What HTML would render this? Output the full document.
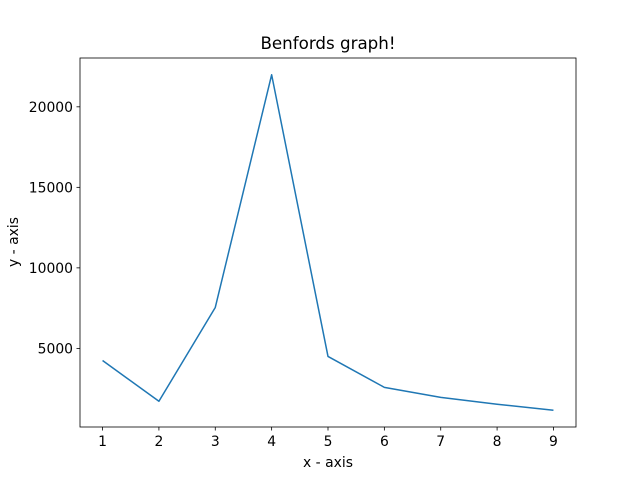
<!DOCTYPE html>
<html><head><meta charset="utf-8"><style>
body{margin:0;background:#fff;}
svg{display:block;font-family:"DejaVu Sans","Liberation Sans",sans-serif;}
</style></head><body>
<svg id="chart" width="640" height="480">
<rect width="640" height="480" fill="#fff"/>
<text x="328" y="49" font-size="16.7" text-anchor="middle">Benfords graph!</text>
<text x="328" y="467" font-size="13.9" text-anchor="middle">x - axis</text>
<text transform="translate(18,242) rotate(-90)" font-size="13.9" text-anchor="middle">y - axis</text>
<g id="ticks"></g>
<path id="line" fill="none" stroke="#1f77b4" stroke-width="1.5" stroke-linejoin="round"/>
<rect x="80" y="58" width="496" height="369" fill="none" stroke="#000" stroke-width="0.8"/>
</svg>
<script>
const categories=[1,2,3,4,5,6,7,8,9];
const values=[4250,1715,7540,21990,4500,2580,1960,1530,1160];
const yTicks=[5000,10000,15000,20000];
const L=80,R=576,T=58,B=427;
const xmin=0.6,xmax=9.4;
const vmin=Math.min(...values),vmax=Math.max(...values),pad=(vmax-vmin)*0.05;
const ymin=vmin-pad,ymax=vmax+pad;
const sx=v=>L+(v-xmin)/(xmax-xmin)*(R-L);
const sy=v=>B-(v-ymin)/(ymax-ymin)*(B-T);
const NS="http://www.w3.org/2000/svg";
const g=document.getElementById('ticks');
function mk(tag,attrs,txt){const e=document.createElementNS(NS,tag);for(const k in attrs)e.setAttribute(k,attrs[k]);if(txt!==undefined)e.textContent=txt;g.appendChild(e);return e;}
categories.forEach(c=>{
 const x=sx(c);
 const t=mk('line',{x1:x,x2:x,y1:B,y2:B+3.5,stroke:'#000','stroke-width':0.8});
 
 
 const l=mk('text',{x:x,y:B+19,'font-size':13.9,'text-anchor':'middle'},String(c));
 
 
});
yTicks.forEach(v=>{
 const y=sy(v);
 const t=mk('line',{x1:L-3.5,x2:L,y1:y,y2:y,stroke:'#000','stroke-width':0.8});
 
 
 const l=mk('text',{x:L-7,y:y+5,'font-size':13.9,'text-anchor':'end'},String(v));
 
 
});
document.getElementById('line').setAttribute('d',categories.map((c,i)=>(i?'L':'M')+sx(c).toFixed(2)+','+sy(values[i]).toFixed(2)).join(' '));
</script>
</body></html>
